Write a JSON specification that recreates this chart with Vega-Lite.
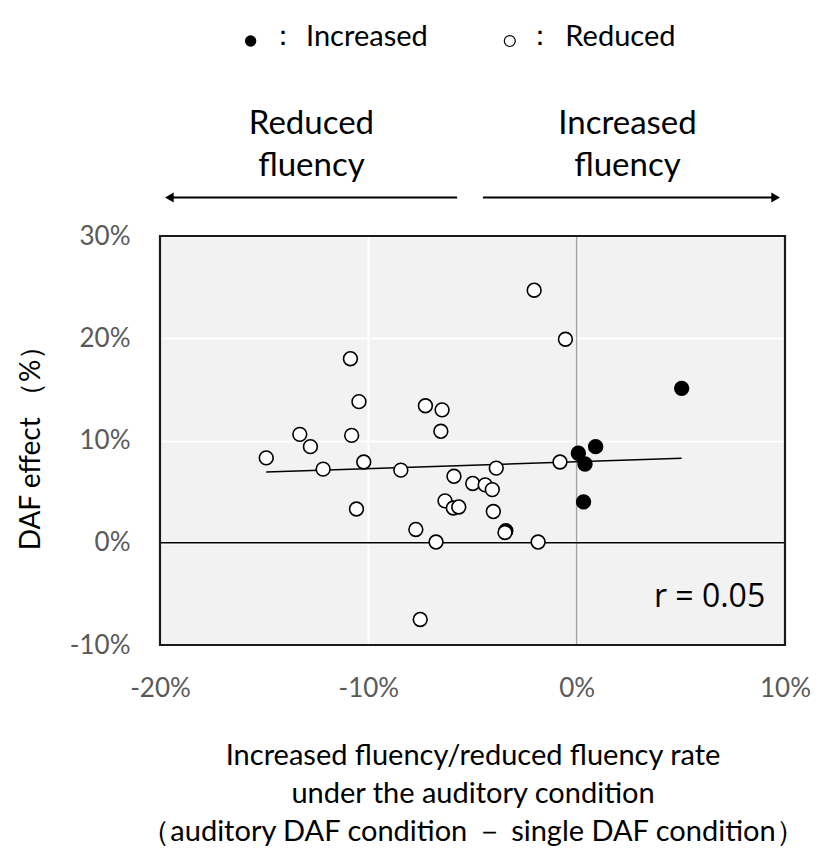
{
  "$schema": "https://vega.github.io/schema/vega-lite/v6.json",
  "width": 625,
  "height": 409,
  "autosize": {"type": "none"},
  "padding": {"left": 160, "top": 236, "right": 48, "bottom": 205},
  "background": "white",
  "config": {
    "font": "Lato",
    "view": {"fill": "#f2f2f2", "stroke": null}
  },
  "data": {"values": [{}]},
  "datasets": {
    "points": [
      {"rate": 0.0504, "effect": 0.151, "group": "Increased"},
      {"rate": 0.0008, "effect": 0.0875, "group": "Increased"},
      {"rate": 0.0091, "effect": 0.094, "group": "Increased"},
      {"rate": 0.0040, "effect": 0.077, "group": "Increased"},
      {"rate": 0.0033, "effect": 0.040, "group": "Increased"},
      {"rate": -0.0340, "effect": 0.0117, "group": "Increased"},
      {"rate": -0.1086, "effect": 0.180, "group": "Reduced"},
      {"rate": -0.1045, "effect": 0.138, "group": "Reduced"},
      {"rate": -0.0726, "effect": 0.134, "group": "Reduced"},
      {"rate": -0.0646, "effect": 0.130, "group": "Reduced"},
      {"rate": -0.1329, "effect": 0.106, "group": "Reduced"},
      {"rate": -0.1080, "effect": 0.105, "group": "Reduced"},
      {"rate": -0.0652, "effect": 0.109, "group": "Reduced"},
      {"rate": -0.1278, "effect": 0.094, "group": "Reduced"},
      {"rate": -0.1490, "effect": 0.083, "group": "Reduced"},
      {"rate": -0.1217, "effect": 0.072, "group": "Reduced"},
      {"rate": -0.1022, "effect": 0.079, "group": "Reduced"},
      {"rate": -0.0844, "effect": 0.071, "group": "Reduced"},
      {"rate": -0.0589, "effect": 0.065, "group": "Reduced"},
      {"rate": -0.0499, "effect": 0.058, "group": "Reduced"},
      {"rate": -0.0632, "effect": 0.041, "group": "Reduced"},
      {"rate": -0.0592, "effect": 0.034, "group": "Reduced"},
      {"rate": -0.0566, "effect": 0.035, "group": "Reduced"},
      {"rate": -0.1057, "effect": 0.033, "group": "Reduced"},
      {"rate": -0.0772, "effect": 0.013, "group": "Reduced"},
      {"rate": -0.0675, "effect": 0.0007, "group": "Reduced"},
      {"rate": -0.0751, "effect": -0.075, "group": "Reduced"},
      {"rate": -0.0204, "effect": 0.247, "group": "Reduced"},
      {"rate": -0.0054, "effect": 0.199, "group": "Reduced"},
      {"rate": -0.0439, "effect": 0.0566, "group": "Reduced"},
      {"rate": -0.0405, "effect": 0.052, "group": "Reduced"},
      {"rate": -0.0386, "effect": 0.073, "group": "Reduced"},
      {"rate": -0.0400, "effect": 0.0305, "group": "Reduced"},
      {"rate": -0.0344, "effect": 0.010, "group": "Reduced"},
      {"rate": -0.0185, "effect": 0.0007, "group": "Reduced"},
      {"rate": -0.0080, "effect": 0.079, "group": "Reduced"}
    ]
  },
  "layer": [
    {
      "data": {"name": "points"},
      "mark": {"type": "point", "opacity": 0},
      "encoding": {
        "x": {
          "field": "rate",
          "type": "quantitative",
          "scale": {"domain": [-0.2, 0.1], "nice": false, "zero": false},
          "axis": {
            "labelExpr": "replace(format(datum.value, '.0%'), '\u2212', '-')",
            "values": [-0.2, -0.1, 0, 0.1],
            "grid": true,
            "gridColor": "white",
            "gridWidth": 2,
            "domain": false,
            "ticks": false,
            "labelFlush": false,
            "labelPadding": 30,
            "labelFontSize": 26,
            "labelColor": "#595959",
            "title": ["Increased fluency/reduced fluency rate", "under the auditory condition", "（auditory DAF condition － single DAF condition）"],
            "titleFontSize": 29,
            "titleFontWeight": "normal",
            "titleColor": "black",
            "titleLineHeight": 38,
            "titlePadding": 40
          }
        },
        "y": {
          "field": "effect",
          "type": "quantitative",
          "scale": {"domain": [-0.1, 0.3], "nice": false, "zero": false},
          "axis": {
            "labelExpr": "replace(format(datum.value, '.0%'), '\u2212', '-')",
            "values": [-0.1, 0, 0.1, 0.2, 0.3],
            "grid": true,
            "gridColor": "white",
            "gridWidth": 2,
            "domain": false,
            "ticks": false,
            "labelFlush": false,
            "labelPadding": 30,
            "labelFontSize": 26,
            "labelColor": "#595959",
            "title": "DAF effect （%）",
            "titleFontSize": 28,
            "titleFontWeight": "normal",
            "titleColor": "black",
            "titlePadding": 24
          }
        }
      }
    },
    {
      "mark": {"type": "rule", "color": "#a6a6a6", "strokeWidth": 1.5},
      "encoding": {"x": {"datum": 0}}
    },
    {
      "mark": {"type": "rule", "color": "black", "strokeWidth": 1.5},
      "encoding": {"y": {"datum": 0}}
    },
    {
      "mark": {"type": "rect", "fill": null, "fillOpacity": 0, "stroke": "#1a1a1a", "strokeWidth": 2.2},
      "encoding": {
        "x": {"datum": -0.2},
        "x2": {"datum": 0.1},
        "y": {"datum": -0.1},
        "y2": {"datum": 0.3}
      }
    },
    {
      "data": {"name": "points"},
      "transform": [{"regression": "effect", "on": "rate"}],
      "mark": {"type": "line", "color": "black", "strokeWidth": 1.5},
      "encoding": {
        "x": {"field": "rate", "type": "quantitative"},
        "y": {"field": "effect", "type": "quantitative"}
      }
    },
    {
      "data": {"name": "points"},
      "mark": {"type": "point", "shape": "circle", "filled": true, "size": 190, "stroke": "black", "strokeWidth": 1.6, "opacity": 1},
      "encoding": {
        "x": {"field": "rate", "type": "quantitative"},
        "y": {"field": "effect", "type": "quantitative"},
        "fill": {"field": "group", "type": "nominal", "scale": {"domain": ["Increased", "Reduced"], "range": ["black", "white"]}, "legend": null}
      }
    },
    {
      "mark": {"type": "text", "text": "r = 0.05", "font": "Open Sans", "fontSize": 32, "align": "right", "baseline": "middle", "color": "black"},
      "encoding": {"x": {"datum": 0.0905}, "y": {"datum": -0.0527}}
    },
    {
      "mark": {"type": "text", "text": ["Reduced", "fluency"], "fontSize": 33, "lineHeight": 42, "align": "center", "baseline": "middle", "color": "black"},
      "encoding": {"x": {"datum": -0.1273}, "y": {"datum": 0.4098}}
    },
    {
      "mark": {"type": "text", "text": ["Increased", "fluency"], "fontSize": 33, "lineHeight": 42, "align": "center", "baseline": "middle", "color": "black"},
      "encoding": {"x": {"datum": 0.0244}, "y": {"datum": 0.4098}}
    },
    {
      "mark": {"type": "rule", "color": "black", "strokeWidth": 2},
      "encoding": {"x": {"datum": -0.196}, "x2": {"datum": -0.0574}, "y": {"datum": 0.3376}}
    },
    {
      "mark": {"type": "rule", "color": "black", "strokeWidth": 2},
      "encoding": {"x": {"datum": -0.045}, "x2": {"datum": 0.0955}, "y": {"datum": 0.3376}}
    },
    {
      "mark": {"type": "point", "shape": "triangle-left", "filled": true, "size": 100, "color": "black", "opacity": 1},
      "encoding": {"x": {"datum": -0.1955}, "y": {"datum": 0.3376}}
    },
    {
      "mark": {"type": "point", "shape": "triangle-right", "filled": true, "size": 100, "color": "black", "opacity": 1},
      "encoding": {"x": {"datum": 0.0955}, "y": {"datum": 0.3376}}
    },
    {
      "mark": {"type": "point", "shape": "circle", "filled": true, "size": 130, "color": "black", "opacity": 1},
      "encoding": {"x": {"datum": -0.1565}, "y": {"datum": 0.4907}}
    },
    {
      "mark": {"type": "point", "shape": "circle", "filled": true, "size": 120, "fill": "white", "stroke": "black", "strokeWidth": 1.2, "opacity": 1},
      "encoding": {"x": {"datum": -0.0321}, "y": {"datum": 0.4907}}
    },
    {
      "mark": {"type": "text", "text": "：", "fontSize": 28, "align": "center", "baseline": "middle", "color": "black"},
      "encoding": {"x": {"datum": -0.141}, "y": {"datum": 0.4946}}
    },
    {
      "mark": {"type": "text", "text": "：", "fontSize": 28, "align": "center", "baseline": "middle", "color": "black"},
      "encoding": {"x": {"datum": -0.0177}, "y": {"datum": 0.4946}}
    },
    {
      "mark": {"type": "text", "text": "Increased", "fontSize": 29, "align": "center", "baseline": "middle", "color": "black"},
      "encoding": {"x": {"datum": -0.1007}, "y": {"datum": 0.4946}}
    },
    {
      "mark": {"type": "text", "text": "Reduced", "fontSize": 29, "align": "center", "baseline": "middle", "color": "black"},
      "encoding": {"x": {"datum": 0.021}, "y": {"datum": 0.4946}}
    }
  ]
}
